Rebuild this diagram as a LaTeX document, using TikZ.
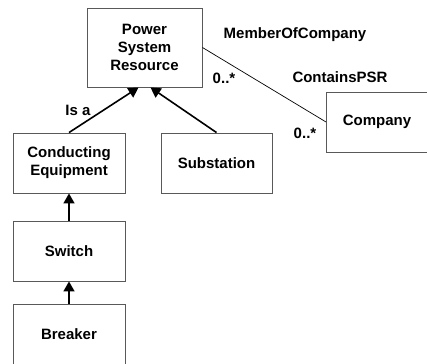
\documentclass[tikz,border=0pt]{standalone}
\usepackage{fontspec}
\setmainfont{Liberation Sans}
\usetikzlibrary{arrows.meta}
\begin{document}
\begin{tikzpicture}[x=1pt,y=-1pt,
  every node/.style={font=\fontsize{15}{18}\selectfont\bfseries, inner sep=0pt, align=center},
  cls/.style={draw=black!65, line width=0.9pt, fill=white, rectangle},
  gen/.style={line width=1.6pt, -{Triangle[width=11pt,length=10pt]}},
  assoc/.style={line width=0.7pt},
  lbl/.style={}]
\useasboundingbox (0,0) rectangle (427,363);
\clip (0,0) rectangle (427,363);
\node[cls, minimum width=115pt, minimum height=79pt] (psr) at (144.5,47.5) {Power\\System\\Resource};
\node[cls, minimum width=112pt, minimum height=60pt] (ce) at (69,163) {Conducting\\Equipment};
\node[cls, minimum width=111pt, minimum height=60pt] (sub) at (216.5,163) {Substation};
\node[cls, minimum width=101pt, minimum height=60pt] (comp) at (377,122) {Company};
\node[cls, minimum width=112pt, minimum height=60pt] (sw) at (69,251) {Switch};
\node[cls, minimum width=112pt, minimum height=60pt] (br) at (69,334) {Breaker};
\draw[gen] (ce.north) -- ([xshift=-6pt]psr.south);
\draw[gen] (sub.north) -- ([xshift=6pt]psr.south);
\draw[gen] (sw.north) -- (ce.south);
\draw[gen] (br.north) -- (sw.south);
\draw[assoc] (psr.east) -- (comp.west);
\node[lbl] (isa) at (78,110) {Is a};
\node[lbl] (moc) at (295,35) {MemberOfCompany};
\node[lbl] (cpsr) at (340,77) {ContainsPSR};
\node[lbl] (m1) at (224,78) {0..*};
\node[lbl] (m2) at (305,133) {0..*};
\end{tikzpicture}
\end{document}
